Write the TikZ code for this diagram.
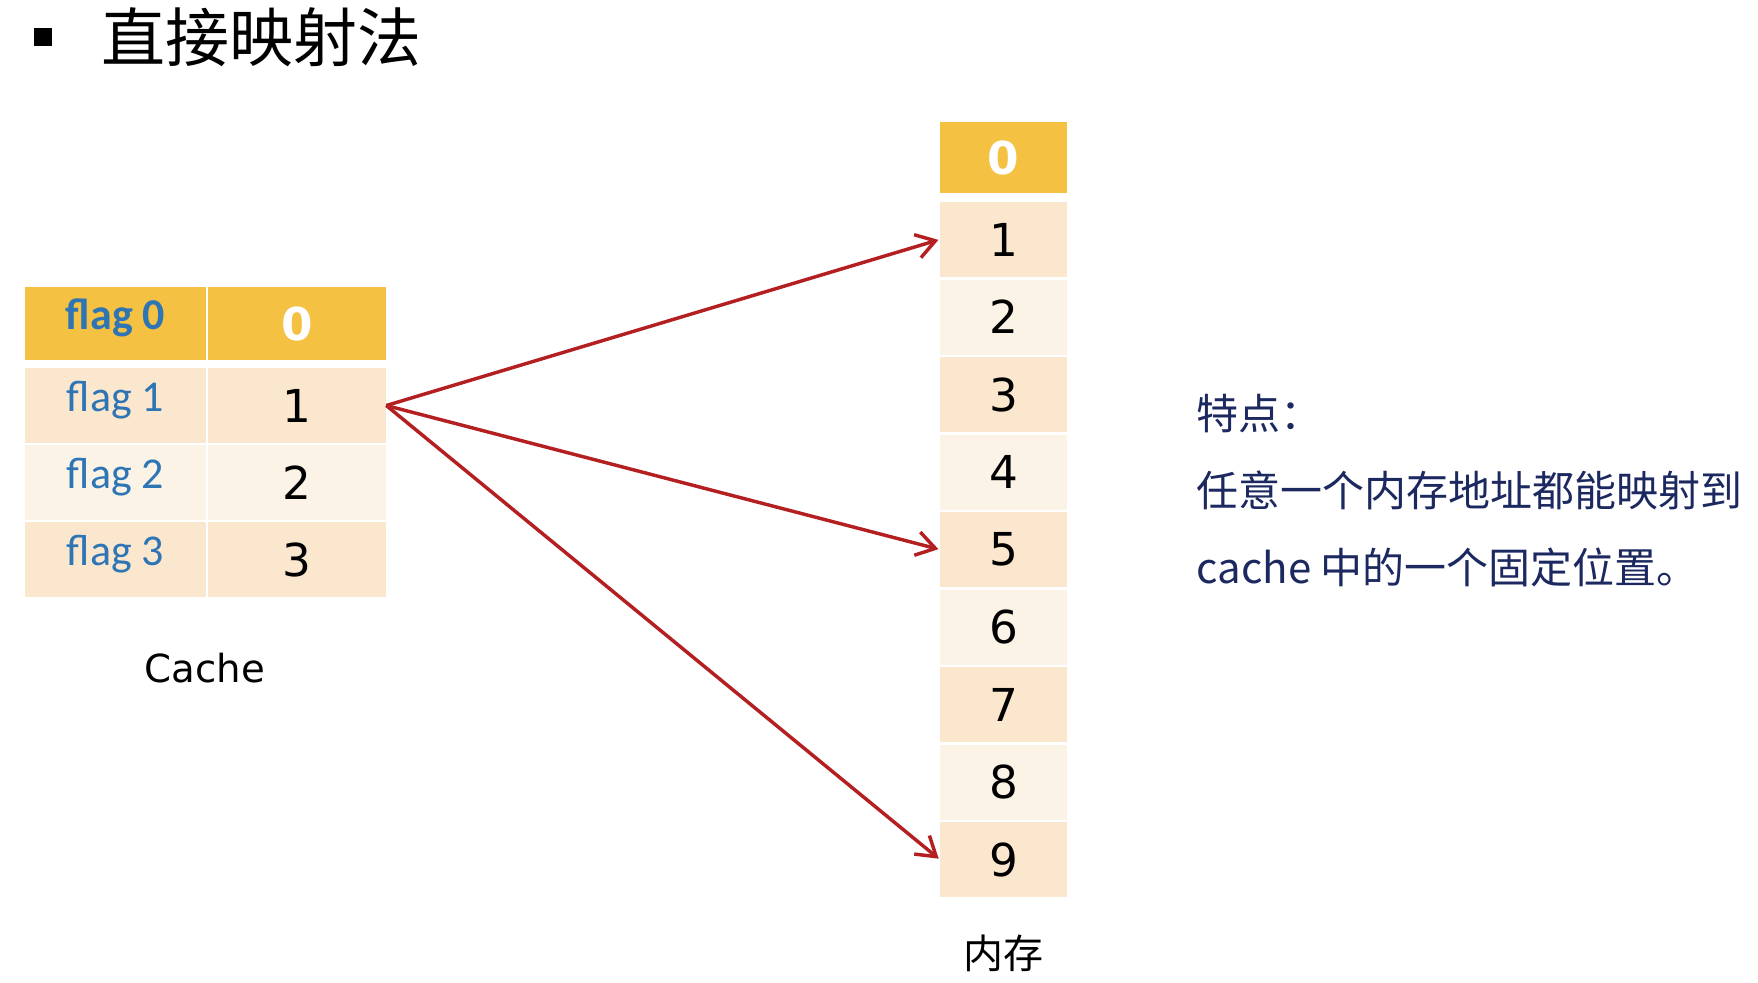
\documentclass[tikz,border=0pt]{standalone}
\usepackage{fontspec}
\setmainfont{DejaVu Sans}
\newfontfamily\cjk{Noto Sans CJK SC}
\newfontfamily\flagfont{Carlito}
\usepackage{tikz}
\usetikzlibrary{arrows.meta,positioning}
\usepackage{xcolor}
\definecolor{mapgold}{RGB}{244,193,66}
\definecolor{maptan}{RGB}{251,231,205}
\definecolor{mapcream}{RGB}{252,243,231}
\definecolor{flagblue}{RGB}{46,117,182}
\definecolor{maparrow}{RGB}{180,32,34}
\definecolor{mapnavy}{RGB}{28,40,96}
\newlength{\pxu}\setlength{\pxu}{0.75pt}

\tikzset{
  cell/.style={rectangle,inner sep=0pt,minimum height=75\pxu},
  flagcell/.style={cell,minimum width=181\pxu,text depth=14pt,text=flagblue,font=\flagfont\fontsize{33}{36}\selectfont},
  valcell/.style={cell,minimum width=178\pxu,font=\fontsize{34}{38}\selectfont},
  memcell/.style={cell,minimum width=127\pxu,font=\fontsize{34}{38}\selectfont},
  mapline/.style={draw=maparrow,line width=2.6pt,shorten >=1pt,-{Straight Barb[length=14pt,width=18pt,line width=2.6pt]}}
}

\begin{document}
\begin{tikzpicture}[x=0.75pt,y=-0.75pt]
        \useasboundingbox (0,0) rectangle (1758,982);
        % title
        \node[fill=black,minimum size=18\pxu,inner sep=0pt] (bullet) at (43,37) {};
        \node[anchor=west,inner sep=0pt,font=\cjk\fontsize{48}{52}\selectfont] (title) at (101,37) {直接映射法};
        % cache
        \node[flagcell,fill=mapgold,minimum height=73\pxu,font=\flagfont\bfseries\fontsize{33}{36}\selectfont] (f0) at (115.5,323.5) {flag 0};
        \node[valcell,fill=mapgold,minimum height=73\pxu,text=white,font=\bfseries\fontsize{34}{38}\selectfont] (c0) at (297,323.5) {0};
        \node[flagcell,fill=maptan] (f1) at (115.5,405.5) {flag 1};
        \node[valcell,fill=maptan] (c1) at (297,405.5) {1};
        \node[flagcell,fill=mapcream] (f2) at (115.5,482.5) {flag 2};
        \node[valcell,fill=mapcream] (c2) at (297,482.5) {2};
        \node[flagcell,fill=maptan] (f3) at (115.5,559.5) {flag 3};
        \node[valcell,fill=maptan] (c3) at (297,559.5) {3};
        \node[font=\fontsize{29}{33}\selectfont] (cachelbl) at (205,668) {Cache};
        % memory
        \node[memcell,fill=mapgold,minimum height=71\pxu,text=white,font=\bfseries\fontsize{34}{38}\selectfont] (m0) at (1003.5,157.5) {0};
        \node[memcell,fill=maptan] (m1) at (1003.5,239.5) {1};
        \node[memcell,fill=mapcream] (m2) at (1003.5,317) {2};
        \node[memcell,fill=maptan] (m3) at (1003.5,394.5) {3};
        \node[memcell,fill=mapcream] (m4) at (1003.5,472) {4};
        \node[memcell,fill=maptan] (m5) at (1003.5,549.5) {5};
        \node[memcell,fill=mapcream] (m6) at (1003.5,627) {6};
        \node[memcell,fill=maptan] (m7) at (1003.5,704.5) {7};
        \node[memcell,fill=mapcream] (m8) at (1003.5,782) {8};
        \node[memcell,fill=maptan] (m9) at (1003.5,859.5) {9};
        \node[font=\cjk\fontsize{30}{34}\selectfont] (memlbl) at (1003.5,953) {内存};
        % mapping
        \draw[mapline] (c1.east) -- (m1.west);
        \draw[mapline] (c1.east) -- (m5.west);
        \draw[mapline] (c1.east) -- (m9.west);
        % note
        \node[anchor=west,align=left,text=mapnavy,font=\cjk\fontsize{31.5}{57.75}\selectfont] (note) at (1192,491) {特点：\\任意一个内存地址都能映射到\\cache 中的一个固定位置。};
      \end{tikzpicture}
\end{document}
